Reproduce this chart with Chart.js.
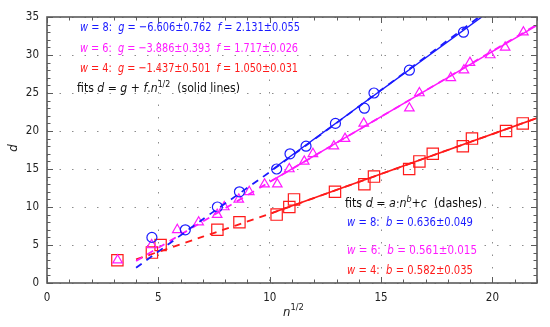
<!DOCTYPE html>
<html lang="en">
<head>
<meta charset="UTF-8" />
<title>d versus n^1/2 with fits</title>
<style>
  html, body { margin:0; padding:0; background:#fff; }
  canvas { display:block; }
</style>
</head>
<body>
<canvas id="chart" width="550" height="327"></canvas>

<script src="https://cdn.jsdelivr.net/npm/chart.js"></script>
<script>
// measured points, x = n^1/2, y = d
const sqrtN8 = [4.71, 6.21, 7.65, 8.64, 10.31, 10.91, 11.63, 12.95, 14.25, 14.68, 16.27, 18.70];
const d8     = [6, 7, 10, 12, 15, 17, 18, 21, 23, 25, 28, 33];

const sqrtN6 = [3.17, 4.70, 5.85, 6.81, 7.64, 7.96, 8.61, 9.08, 9.77, 10.34, 10.88, 11.55,
                11.94, 12.88, 13.38, 14.22, 16.27, 16.72, 18.13, 18.72, 18.99, 19.90, 20.57, 21.39];
const d6     = [3, 5, 7, 8, 9, 10, 11, 12, 13, 13, 15, 16, 17, 18, 19, 21, 23, 25, 27, 28, 29, 30, 31, 33];

const sqrtN4 = [3.16, 4.71, 5.10, 7.65, 8.64, 10.31, 10.88, 11.09, 12.93, 14.25, 14.68, 16.26,
                16.72, 17.32, 18.67, 19.08, 20.61, 21.36];
const d4     = [3, 4, 5, 7, 8, 9, 10, 11, 12, 13, 14, 15, 16, 17, 18, 19, 20, 21];

// solid fits d = g + f n^1/2 (end points)
const solidX8 = [10.1, 19.52], solidD8 = [14.9, 35.0];
const solidX6 = [10.0, 22.0],  solidD6 = [13.3, 33.9];
const solidX4 = [10.1, 22.0],  solidD4 = [9.2, 21.7];

// dashed fits d = a n^b + c (points read along the dashes)
const dashX8 = [4.0, 7.0, 10.0, 14.5, 19.4], dashD8 = [2.0, 8.4, 14.6, 24.3, 35.0];
const dashX6 = [4.0, 7.0, 10.0, 16.0, 22.0], dashD6 = [2.9, 8.1, 13.3, 23.6, 34.0];
const dashX4 = [4.0, 7.0, 10.0, 16.0, 22.0], dashD4 = [3.1, 6.1, 9.1, 15.4, 21.7];

const xTicks = [0, 5, 10, 15, 20];
const yTicks = [0, 5, 10, 15, 20, 25, 30, 35];

const BLUE = '#1a1aff', MAGENTA = '#ff1aff', RED = '#ff1a1a';
const FONT = '"DejaVu Sans Condensed", "DejaVu Sans", sans-serif';

const pts = (xs, ys) => xs.map((x, i) => ({ x: x, y: ys[i] }));

function markers(xs, ys, color, style, r) {
  return {
    data: pts(xs, ys), pointStyle: style, pointRadius: r,
    borderColor: color, backgroundColor: 'rgba(0,0,0,0)',
    pointBorderWidth: 1.2, showLine: false
  };
}
function fitLine(xs, ys, color, dashed) {
  return {
    data: pts(xs, ys), showLine: true, pointRadius: 0,
    borderColor: color, borderWidth: dashed ? 1.8 : 1.5,
    borderDash: dashed ? [7, 6] : [], tension: dashed ? 0.2 : 0, fill: false
  };
}

// rich text: [text, 'i' | 'sup' | 'isup' | '']
function drawRich(ctx, x, y, parts, color, size, width) {
  ctx.save();
  ctx.textBaseline = 'middle';
  ctx.textAlign = 'left';
  const fontFor = st => {
    const sup = st.indexOf('sup') >= 0;
    const it = st.indexOf('i') === 0;
    return (it ? 'italic ' : '') + (sup ? size * 0.72 : size) + 'px ' + FONT;
  };
  let total = 0;
  parts.forEach(p => { ctx.font = fontFor(p[1]); total += ctx.measureText(p[0]).width; });
  ctx.translate(x, y);
  if (width) ctx.scale(width / total, 1);
  ctx.fillStyle = color;
  let cx = 0;
  parts.forEach(p => {
    ctx.font = fontFor(p[1]);
    const dy = p[1].indexOf('sup') >= 0 ? -size * 0.38 : 0;
    ctx.fillText(p[0], cx, dy);
    cx += ctx.measureText(p[0]).width;
  });
  ctx.restore();
}

// frame and inward minor/major ticks on all four sides
const framePlugin = {
  id: 'frame',
  afterDatasetsDraw(chart) {
    const { ctx, chartArea: a, scales: { x, y } } = chart;
    ctx.save();
    ctx.strokeStyle = '#5a5a5a';
    ctx.lineWidth = 1;
    ctx.beginPath();
    for (let v = 0; v <= 22; v++) {
      const px = Math.round(x.getPixelForValue(v)) + 0.5;
      const len = v % 5 === 0 ? 6 : 3.5;
      ctx.moveTo(px, a.bottom); ctx.lineTo(px, a.bottom - len);
      ctx.moveTo(px, a.top); ctx.lineTo(px, a.top + len);
    }
    for (let v = 0; v <= 35; v++) {
      const py = Math.round(y.getPixelForValue(v)) + 0.5;
      const len = v % 5 === 0 ? 6 : 3.5;
      ctx.moveTo(a.left, py); ctx.lineTo(a.left + len, py);
      ctx.moveTo(a.right, py); ctx.lineTo(a.right - len, py);
    }
    ctx.stroke();
    ctx.lineWidth = 1.6;
    ctx.strokeRect(a.left, a.top, a.right - a.left, a.bottom - a.top);
    ctx.restore();
  }
};

const textPlugin = {
  id: 'notes',
  afterDraw(chart) {
    const ctx = chart.ctx;
    const a = chart.chartArea;
    drawRich(ctx, 80, 28, [['w', 'i'], [' = 8:  ', ''], ['g', 'i'], [' = \u22126.606\u00b10.762  ', ''],
      ['f', 'i'], [' = 2.131\u00b10.055', '']], BLUE, 12.8, 220);
    drawRich(ctx, 80, 49, [['w', 'i'], [' = 6:  ', ''], ['g', 'i'], [' = \u22123.886\u00b10.393  ', ''],
      ['f', 'i'], [' = 1.717\u00b10.026', '']], MAGENTA, 12.8, 218);
    drawRich(ctx, 80, 69, [['w', 'i'], [' = 4:  ', ''], ['g', 'i'], [' = \u22121.437\u00b10.501  ', ''],
      ['f', 'i'], [' = 1.050\u00b10.031', '']], RED, 12.8, 218);
    drawRich(ctx, 77, 89, [['fits ', ''], ['d', 'i'], [' = ', ''], ['g', 'i'], [' + ', ''], ['f', 'i'],
      ['.', ''], ['n', 'i'], ['1/2', 'sup'], ['  (solid lines)', '']], '#111', 12, 163);

    drawRich(ctx, 345, 204, [['fits ', ''], ['d', 'i'], [' = ', ''], ['a', 'i'], ['\u00b7', ''], ['n', 'i'],
      ['b', 'isup'], ['+', ''], ['c', 'i'], ['  (dashes)', '']], '#111', 12, 137);
    drawRich(ctx, 347, 223, [['w', 'i'], [' = 8:  ', ''], ['b', 'i'], [' = 0.636\u00b10.049', '']], BLUE, 11.8, 126);
    drawRich(ctx, 347, 251, [['w', 'i'], [' = 6:  ', ''], ['b', 'i'], [' = 0.561\u00b10.015', '']], MAGENTA, 11.8, 130);
    drawRich(ctx, 347, 271, [['w', 'i'], [' = 4:  ', ''], ['b', 'i'], [' = 0.582\u00b10.035', '']], RED, 11.8, 126);

    // axis titles
    const cx = (a.left + a.right) / 2;
    drawRich(ctx, cx - 9, 313, [['n', 'i'], ['1/2', 'sup']], '#222', 13);
    ctx.save();
    ctx.translate(14, 148);
    ctx.rotate(-Math.PI / 2);
    ctx.font = 'italic 13px ' + FONT;
    ctx.fillStyle = '#222';
    ctx.textAlign = 'center';
    ctx.textBaseline = 'middle';
    ctx.fillText('d', 0, 0);
    ctx.restore();
  }
};

const tickFont = { family: FONT, size: 11.5 };

new Chart(document.getElementById('chart').getContext('2d'), {
  type: 'scatter',
  data: {
    datasets: [
      fitLine(solidX8, solidD8, BLUE, false),
      fitLine(solidX6, solidD6, MAGENTA, false),
      fitLine(solidX4, solidD4, RED, false),
      fitLine(dashX8, dashD8, BLUE, true),
      fitLine(dashX6, dashD6, MAGENTA, true),
      fitLine(dashX4, dashD4, RED, true),
      markers(sqrtN8, d8, BLUE, 'circle', 5),
      markers(sqrtN6, d6, MAGENTA, 'triangle', 5.5),
      markers(sqrtN4, d4, RED, 'rect', 8)
    ]
  },
  options: {
    responsive: false,
    animation: false,
    layout: { padding: { top: 17, right: 13, left: 0, bottom: 0 } },
    plugins: { legend: { display: false }, tooltip: { enabled: false } },
    scales: {
      x: {
        type: 'linear', min: 0, max: 22,
        afterFit: s => { s.height = 44; },
        afterBuildTicks: s => { s.ticks = xTicks.map(v => ({ value: v })); },
        grid: { color: '#8c8c8c', drawTicks: false, lineWidth: 1 },
        border: { display: false, dash: [1.5, 11] },
        ticks: { color: '#222', font: tickFont, padding: 8, maxRotation: 0 }
      },
      y: {
        type: 'linear', min: 0, max: 35,
        afterFit: s => { s.width = 47; },
        afterBuildTicks: s => { s.ticks = yTicks.map(v => ({ value: v })); },
        grid: { color: '#8c8c8c', drawTicks: false, lineWidth: 1 },
        border: { display: false, dash: [1.5, 11] },
        ticks: { color: '#222', font: tickFont, padding: 8 }
      }
    }
  },
  plugins: [framePlugin, textPlugin]
});
</script>
</body>
</html>
